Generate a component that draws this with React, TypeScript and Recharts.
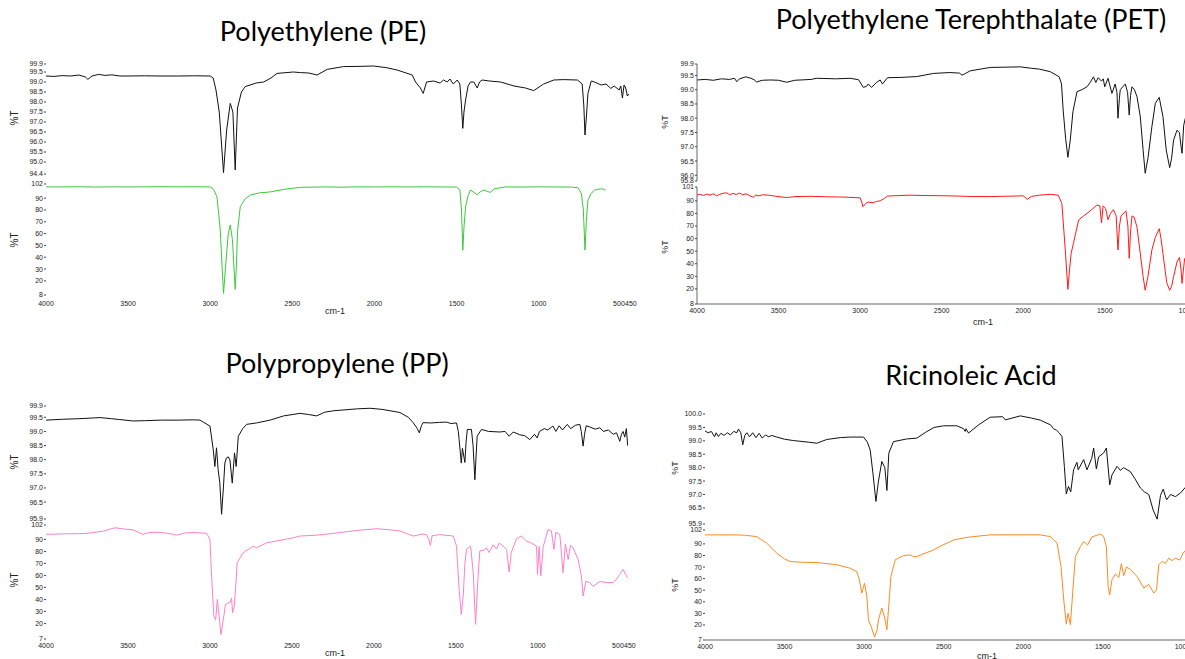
import { Line, LineChart, XAxis, YAxis } from "recharts";

type Pt = [number, number];

// wavenumber (cm-1), %T
const PE_TOP: Pt[] = [
  [4000, 99.3], [3950, 99.28], [3900, 99.32], [3850, 99.3], [3800, 99.35], [3760, 99.25], [3745, 99.13], [3720, 99.3],
  [3680, 99.38], [3640, 99.33], [3600, 99.36], [3550, 99.3], [3500, 99.3], [3400, 99.31], [3300, 99.3], [3200, 99.3],
  [3100, 99.31], [3000, 99.3], [2982, 99.2], [2965, 98.6], [2945, 97.5], [2919, 94.47], [2900, 96.6], [2878, 97.93],
  [2862, 97.5], [2848, 94.6], [2834, 97.7], [2810, 98.5], [2787, 98.77], [2720, 98.95], [2675, 99.0], [2630, 99.2],
  [2593, 99.43], [2494, 99.5], [2451, 99.47], [2400, 99.45], [2349, 99.35], [2288, 99.63], [2189, 99.77], [2100, 99.78],
  [2006, 99.8], [1930, 99.72], [1862, 99.6], [1770, 99.35], [1750, 99.0], [1720, 98.7], [1703, 98.43], [1690, 98.8],
  [1683, 99.0], [1640, 99.05], [1600, 98.95], [1580, 99.1], [1557, 99.0], [1540, 99.15], [1520, 98.9], [1496, 99.1],
  [1480, 98.9], [1470, 97.8], [1462, 96.68], [1455, 97.5], [1445, 98.1], [1430, 98.8], [1415, 99.0], [1395, 99.0],
  [1374, 98.7], [1360, 99.0], [1344, 99.1], [1300, 99.05], [1232, 99.0], [1150, 98.8], [1080, 98.7], [1030, 98.57],
  [970, 98.9], [908, 99.1], [850, 99.12], [764, 99.1], [735, 98.9], [725, 97.8], [718, 96.35], [710, 97.2], [700, 98.43],
  [680, 99.05], [660, 99.0], [620, 98.85], [590, 98.9], [561, 98.68], [540, 98.8], [510, 98.6], [500, 98.8], [490, 98.2],
  [480, 98.85], [470, 98.7], [460, 98.3], [451, 98.4],
];
const PE_BOTTOM: Pt[] = [
  [4000, 99.6], [3900, 99.5], [3800, 99.7], [3700, 99.4], [3600, 99.6], [3500, 99.5], [3400, 99.6], [3300, 99.7],
  [3200, 99.6], [3100, 99.7], [3000, 99.5], [2980, 97.5], [2959, 91.2], [2939, 63], [2925, 25], [2919, 9.4], [2905, 35],
  [2890, 60], [2878, 67.3], [2865, 55], [2848, 12.8], [2840, 35], [2834, 61.6], [2817, 82.8], [2790, 89], [2756, 92.7],
  [2700, 94.5], [2634, 95.3], [2550, 97.5], [2451, 99.2], [2300, 99.5], [2200, 99.3], [2100, 99.6], [2000, 99.5],
  [1900, 99.6], [1800, 99.5], [1700, 99.6], [1600, 99.5], [1500, 99.4], [1480, 97], [1470, 80], [1462, 46], [1455, 65],
  [1445, 82.8], [1430, 92], [1415, 96.9], [1395, 95], [1374, 92.7], [1355, 95.5], [1334, 96.9], [1310, 95.5],
  [1293, 95], [1270, 98], [1200, 99.5], [1100, 99.4], [1000, 99.6], [900, 99.5], [800, 99.4], [760, 98.8], [740, 94],
  [728, 80], [718, 46], [710, 70], [700, 88.5], [680, 94], [660, 96.9], [640, 97.5], [612, 98], [600, 97], [592, 97.5],
];

const PET_TOP: Pt[] = [
  [4000, 99.34], [3950, 99.36], [3900, 99.33], [3850, 99.38], [3800, 99.36], [3770, 99.4], [3756, 99.28], [3740, 99.38],
  [3700, 99.45], [3670, 99.4], [3650, 99.35], [3634, 99.27], [3600, 99.33], [3550, 99.34], [3500, 99.33], [3450, 99.26],
  [3400, 99.33], [3300, 99.36], [3266, 99.4], [3150, 99.38], [3061, 99.4], [3010, 99.35], [2980, 99.08], [2960, 99.12],
  [2950, 99.2], [2930, 99.08], [2900, 99.25], [2877, 99.34], [2863, 99.2], [2832, 99.42], [2750, 99.43], [2652, 99.46],
  [2550, 99.57], [2450, 99.6], [2390, 99.58], [2376, 99.51], [2360, 99.55], [2325, 99.66], [2202, 99.78], [2100, 99.79],
  [2018, 99.8], [1950, 99.75], [1900, 99.72], [1834, 99.63], [1779, 99.45], [1765, 99.2], [1755, 98.29], [1740, 97.3],
  [1726, 96.63], [1712, 97.2], [1695, 98.23], [1670, 98.93], [1640, 99.0], [1609, 99.1], [1590, 99.25], [1569, 99.45],
  [1555, 99.25], [1540, 99.42], [1520, 99.3], [1509, 99.38], [1500, 99.1], [1480, 99.4], [1456, 98.87], [1436, 99.2],
  [1425, 98.9], [1419, 98.0], [1410, 98.7], [1405, 99.0], [1374, 99.2], [1360, 98.9], [1350, 98.11], [1342, 98.8],
  [1333, 99.1], [1318, 99.0], [1302, 98.75], [1282, 98.05], [1265, 96.9], [1252, 96.07], [1235, 96.6], [1211, 97.7],
  [1190, 98.52], [1166, 98.73], [1143, 98.05], [1123, 96.88], [1102, 96.27], [1090, 96.6], [1078, 97.23], [1057, 97.58],
  [1042, 97.5], [1032, 97.0], [1026, 96.77], [1016, 97.75], [1006, 98.0], [990, 98.3], [970, 98.2],
];
const PET_BOTTOM: Pt[] = [
  [4000, 94.6], [3980, 95.2], [3960, 94.2], [3940, 95.4], [3920, 94.5], [3900, 95.6], [3880, 94.0], [3860, 95.2],
  [3840, 96.0], [3818, 96.4], [3800, 94.8], [3780, 96.0], [3760, 95.0], [3740, 96.2], [3720, 94.8], [3700, 95.6],
  [3680, 94.3], [3656, 92.8], [3640, 94.6], [3620, 93.9], [3600, 94.8], [3560, 94.5], [3520, 93.7], [3450, 92.6],
  [3400, 93.4], [3300, 93.6], [3200, 93.2], [3100, 93.0], [3000, 92.4], [2990, 89], [2983, 85.3], [2965, 88],
  [2950, 89], [2920, 88.5], [2900, 89.5], [2877, 90], [2850, 92], [2832, 93.8], [2700, 94.5], [2600, 94.2],
  [2509, 94.1], [2400, 93.8], [2307, 93.4], [2200, 93.4], [2050, 93.8], [2000, 94.0], [1975, 91.2], [1950, 93.5],
  [1900, 94.5], [1834, 95.2], [1785, 94.5], [1763, 88], [1742, 51], [1726, 19.7], [1716, 35], [1706, 48.3],
  [1692, 56.2], [1660, 74.8], [1630, 78], [1609, 80], [1580, 83], [1548, 86.7], [1530, 86], [1520, 72.4], [1510, 86],
  [1495, 84], [1480, 75], [1465, 80], [1447, 83], [1430, 78], [1419, 51], [1410, 70], [1400, 78], [1370, 82],
  [1358, 70], [1350, 44.3], [1342, 65], [1333, 78], [1320, 77], [1302, 69], [1282, 48], [1265, 30], [1252, 18.9],
  [1235, 30], [1211, 51], [1190, 61], [1166, 67.9], [1155, 60], [1143, 48], [1120, 25], [1102, 18.9], [1090, 22],
  [1078, 29.7], [1057, 41.4], [1042, 45], [1032, 35], [1026, 24.4], [1018, 35], [1010, 44], [990, 48], [970, 50],
];

const PP_TOP: Pt[] = [
  [4000, 99.4], [3900, 99.43], [3800, 99.45], [3700, 99.48], [3670, 99.49], [3600, 99.45], [3550, 99.42], [3470, 99.37],
  [3400, 99.38], [3300, 99.4], [3200, 99.4], [3100, 99.41], [3061, 99.4], [3000, 99.19], [2980, 98.36], [2970, 97.76],
  [2960, 98.42], [2950, 97.64], [2940, 97.2], [2929, 96.07], [2918, 97.0], [2909, 97.88], [2900, 98.06], [2888, 98.1],
  [2878, 97.99], [2864, 97.17], [2850, 98.24], [2840, 97.76], [2827, 98.83], [2800, 99.1], [2776, 99.25], [2716, 99.3],
  [2634, 99.4], [2550, 99.55], [2494, 99.6], [2451, 99.64], [2400, 99.6], [2349, 99.55], [2300, 99.68], [2248, 99.73],
  [2100, 99.8], [2024, 99.82], [1950, 99.78], [1841, 99.67], [1790, 99.5], [1760, 99.31], [1735, 99.1], [1723, 98.95],
  [1710, 99.2], [1700, 99.31], [1650, 99.3], [1600, 99.32], [1557, 99.33], [1530, 99.28], [1496, 99.3], [1485, 99.0],
  [1480, 98.71], [1467, 97.88], [1460, 98.4], [1455, 98.24], [1445, 97.9], [1438, 98.6], [1430, 99.07], [1405, 99.07],
  [1395, 98.5], [1384, 97.29], [1376, 98.2], [1370, 98.83], [1344, 99.07], [1300, 99.0], [1232, 98.98], [1200, 99.0],
  [1175, 98.83], [1150, 98.98], [1110, 98.88], [1080, 98.85], [1049, 98.71], [1020, 98.9], [1004, 98.77], [990, 99.0],
  [960, 99.1], [940, 99.05], [908, 99.19], [890, 99.0], [870, 99.2], [850, 99.05], [820, 99.25], [800, 99.1],
  [770, 99.22], [744, 99.25], [735, 99.0], [724, 98.48], [715, 98.9], [705, 99.2], [680, 99.15], [650, 99.08],
  [622, 99.13], [600, 99.0], [570, 99.05], [540, 98.9], [520, 98.95], [510, 98.8], [500, 98.65], [490, 98.9],
  [480, 99.0], [470, 98.8], [460, 99.1], [452, 98.5],
];
const PP_BOTTOM: Pt[] = [
  [4000, 94.2], [3900, 94.6], [3800, 94.8], [3750, 95], [3700, 96], [3650, 96.9], [3580, 99.7], [3520, 98.6],
  [3470, 98], [3409, 94.2], [3380, 95.5], [3330, 96], [3260, 95.2], [3203, 93.6], [3150, 95.4], [3100, 95.8],
  [3020, 95], [3000, 90], [2990, 59.4], [2976, 26], [2965, 23], [2955, 40], [2944, 26], [2933, 10.8], [2919, 23],
  [2905, 35.8], [2890, 37], [2878, 37.2], [2868, 41], [2862, 28.9], [2852, 34], [2844, 48], [2834, 70.6], [2797, 78.9],
  [2736, 84.4], [2716, 83], [2654, 87.2], [2560, 89.5], [2492, 91.4], [2451, 92.8], [2350, 93.5], [2248, 95],
  [2100, 97.5], [1983, 98.9], [1900, 98], [1841, 97], [1760, 92.8], [1700, 94.5], [1679, 94], [1665, 90], [1655, 85],
  [1645, 93], [1600, 94], [1516, 92.8], [1496, 84.4], [1480, 48.3], [1467, 27.5], [1455, 43], [1445, 70], [1435, 81.7],
  [1410, 84.4], [1394, 62.2], [1380, 19.2], [1366, 55], [1354, 80.3], [1330, 81], [1313, 83], [1297, 79], [1273, 85.5],
  [1252, 82], [1235, 87], [1212, 84.4], [1191, 81.7], [1175, 62.8], [1162, 79], [1130, 90.6], [1100, 92.8],
  [1069, 88.6], [1039, 87], [1008, 84.4], [1002, 60.8], [992, 84], [982, 59.4], [967, 84], [937, 98.3], [917, 97],
  [902, 81.7], [890, 96], [866, 94], [846, 62.2], [832, 86], [815, 73.3], [801, 85], [785, 83], [754, 73], [734, 59.4],
  [724, 42.8], [707, 55], [683, 54], [663, 51], [640, 53], [622, 55], [580, 54], [541, 54], [520, 57], [500, 60.8],
  [480, 65], [465, 61], [453, 58],
];

const RA_TOP: Pt[] = [
  [4000, 99.37], [3980, 99.3], [3960, 99.35], [3940, 99.15], [3930, 99.3], [3916, 99.16], [3900, 99.28], [3880, 99.2],
  [3860, 99.3], [3840, 99.22], [3820, 99.35], [3800, 99.3], [3790, 99.44], [3775, 99.3], [3763, 98.85], [3750, 99.2],
  [3737, 99.3], [3720, 99.15], [3700, 99.3], [3680, 99.12], [3660, 99.28], [3640, 99.1], [3620, 99.22], [3600, 99.15],
  [3580, 99.2], [3549, 99.14], [3500, 99.06], [3445, 99.01], [3350, 98.95], [3297, 98.91], [3235, 99.05], [3150, 99.12],
  [3088, 99.14], [3004, 99.14], [2980, 98.95], [2962, 98.66], [2945, 97.8], [2926, 96.74], [2910, 97.5], [2889, 98.23],
  [2870, 98.0], [2857, 97.15], [2845, 98.54], [2816, 98.97], [2732, 99.07], [2669, 99.1], [2606, 99.35], [2560, 99.5],
  [2501, 99.56], [2417, 99.56], [2375, 99.45], [2365, 99.35], [2360, 99.45], [2344, 99.29], [2280, 99.6], [2208, 99.88],
  [2130, 99.9], [2113, 99.78], [2019, 99.93], [1950, 99.85], [1893, 99.77], [1850, 99.65], [1830, 99.6], [1810, 99.45],
  [1792, 99.4], [1775, 99.3], [1757, 99.16], [1742, 98.04], [1730, 97.02], [1716, 97.3], [1702, 97.1], [1684, 97.92],
  [1663, 98.2], [1655, 97.92], [1621, 98.3], [1600, 97.92], [1570, 98.35], [1558, 98.73], [1541, 97.95], [1527, 98.4],
  [1495, 98.55], [1478, 98.73], [1457, 97.36], [1443, 97.73], [1411, 98.05], [1390, 97.9], [1370, 98.0], [1327, 97.85],
  [1300, 97.6], [1264, 97.24], [1240, 97.1], [1212, 97.0], [1184, 96.42], [1159, 96.08], [1138, 96.97], [1121, 97.2],
  [1100, 96.8], [1075, 97.0], [1044, 96.92], [1012, 97.06], [981, 97.27], [960, 97.4],
];
const RA_BOTTOM: Pt[] = [
  [4000, 97.8], [3900, 97.8], [3822, 97.8], [3750, 97.5], [3675, 96.3], [3612, 90.6], [3549, 82], [3500, 77],
  [3465, 74.8], [3400, 74.2], [3297, 73.9], [3172, 72], [3088, 69], [3046, 66], [3030, 59], [3015, 47.5], [2998, 56],
  [2983, 44.6], [2973, 24.5], [2952, 17], [2935, 9.6], [2920, 15], [2910, 24.5], [2889, 34.6], [2872, 27], [2857, 15.9],
  [2845, 37], [2832, 61.8], [2805, 76.2], [2753, 79.9], [2711, 80.5], [2690, 79], [2669, 79.1], [2564, 84.8],
  [2522, 88], [2459, 92], [2438, 93.4], [2354, 95.7], [2208, 97.8], [2000, 97.9], [1893, 97.8], [1830, 96.3],
  [1788, 90.6], [1763, 70.4], [1746, 41.7], [1730, 21], [1719, 30], [1704, 20.2], [1690, 47.5], [1673, 79], [1641, 87.7],
  [1620, 92], [1596, 89], [1569, 96], [1537, 97.5], [1516, 98.5], [1495, 96.3], [1478, 87.7], [1467, 53.2], [1457, 46],
  [1443, 59], [1421, 64], [1400, 61], [1384, 72.8], [1369, 62.5], [1352, 70], [1327, 68], [1285, 61.8], [1243, 51.8],
  [1212, 55], [1180, 47.5], [1163, 50.5], [1149, 71.9], [1128, 75], [1107, 73], [1086, 77.7], [1065, 75.5],
  [1044, 77.7], [1017, 76], [996, 82], [981, 84.5], [960, 86],
];

const X_TICKS_FULL = [4000, 3500, 3000, 2500, 2000, 1500, 1000, 500, 450];
const X_TICKS_CUT = [4000, 3500, 3000, 2500, 2000, 1500, 1000];
const PE_TOP_TICKS = [94.4, 95.0, 95.5, 96.0, 96.5, 97.0, 97.5, 98.0, 98.5, 99.0, 99.5, 99.9];
const PE_BOTTOM_TICKS = [8, 20, 30, 40, 50, 60, 70, 80, 90, 102];
const PET_TOP_TICKS = [95.8, 96.0, 96.5, 97.0, 97.5, 98.0, 98.5, 99.0, 99.5, 99.9];
const PET_BOTTOM_TICKS = [8, 20, 30, 40, 50, 60, 70, 80, 90, 101];
const PP_TOP_TICKS = [95.9, 96.5, 97.0, 97.5, 98.0, 98.5, 99.0, 99.5, 99.9];
const PP_BOTTOM_TICKS = [7, 20, 30, 40, 50, 60, 70, 80, 90, 102];
const RA_TOP_TICKS = [95.9, 96.5, 97.0, 97.5, 98.0, 98.5, 99.0, 99.5, 100.0];
const RA_BOTTOM_TICKS = [7, 20, 30, 40, 50, 60, 70, 80, 90, 102];

const AXIS_FONT = "'Liberation Sans', Arial, sans-serif";
const TITLE_FONT = "Lato, 'Open Sans', sans-serif";
const TICK_SIZE = 7;
const Y_W = 40;
const PAD = 6;
const PAD_R = 16;

type SubProps = {
  left: number;
  top: number;
  plotW: number;
  plotH: number;
  data: Pt[];
  domain: [number, number];
  ticks: number[];
  decimals: number;
  color: string;
  showX?: boolean;
  xTicks?: number[];
  xGap?: number;
  xLine?: boolean;
  yLine?: boolean;
};

const XTick = (props: any) => {
  const { x, y, payload } = props;
  const v = payload.value;
  const anchor = v === 500 ? "end" : v === 450 ? "start" : "middle";
  const dx = v === 500 ? 4 : v === 450 ? -4 : 0;
  return (
    <text x={x + dx} y={y} dy="0.71em" textAnchor={anchor} fontSize={TICK_SIZE} fill="#222" fontFamily={AXIS_FONT}>
      {v}
    </text>
  );
};

function SubChart(p: SubProps) {
  const xH = p.showX ? 20 : 0;
  const rows = p.data.map(([wn, t]) => ({ wn, t }));
  return (
    <div style={{ position: "absolute", left: p.left - Y_W, top: p.top - PAD }}>
      <LineChart
        width={Y_W + p.plotW + PAD_R}
        height={PAD + p.plotH + (p.showX ? xH : PAD)}
        data={rows}
        margin={{ top: PAD, right: PAD_R, bottom: p.showX ? 0 : PAD, left: 0 }}
      >
        <XAxis
          type="number"
          dataKey="wn"
          domain={[450, 4000]}
          reversed
          allowDataOverflow
          hide={!p.showX}
          ticks={p.xTicks ?? X_TICKS_FULL}
          interval={0}
          height={xH}
          axisLine={p.xLine ? { stroke: "#666", strokeWidth: 1 } : false}
          tickLine={false}
          tickSize={p.xGap ?? 3}
          tickMargin={1}
          tick={<XTick />}
        />
        <YAxis
          type="number"
          domain={p.domain}
          ticks={p.ticks}
          interval={0}
          allowDataOverflow
          width={Y_W}
          axisLine={p.yLine ? { stroke: "#666", strokeWidth: 1 } : false}
          tickLine={{ stroke: "#444" }}
          tickSize={2}
          tickMargin={1}
          tick={{ fontSize: TICK_SIZE, fill: "#222", fontFamily: AXIS_FONT }}
          tickFormatter={(v: number) => v.toFixed(p.decimals)}
        />
        <Line dataKey="t" type="linear" stroke={p.color} strokeWidth={1} dot={false} isAnimationActive={false} />
      </LineChart>
    </div>
  );
}

function Text({ x, y, text, size, rotate, font }: { x: number; y: number; text: string; size: number; rotate?: boolean; font?: string }) {
  return (
    <div
      style={{
        position: "absolute",
        left: x,
        top: y,
        transform: `translate(-50%, -50%)${rotate ? " rotate(-90deg)" : ""}`,
        fontSize: size,
        fontFamily: font ?? AXIS_FONT,
        color: font ? "#000" : "#222",
        whiteSpace: "nowrap",
        lineHeight: 1,
      }}
    >
      {text}
    </div>
  );
}

export default function App() {
  return (
    <div style={{ position: "fixed", left: 0, top: 0, width: 1185, height: 659, overflow: "hidden", background: "#fff" }}>
      {/* Polyethylene */}
      <Text x={323} y={30} text="Polyethylene (PE)" size={27} font={TITLE_FONT} />
      <SubChart left={46} top={64} plotW={583} plotH={110} data={PE_TOP} domain={[94.4, 99.9]} ticks={PE_TOP_TICKS} decimals={1} color="#111" />
      <SubChart left={46} top={184} plotW={583} plotH={111} data={PE_BOTTOM} domain={[8, 102]} ticks={PE_BOTTOM_TICKS} decimals={0} color="#3cc83c" showX xGap={5} />
      <Text x={15} y={118} text="%T" size={10} rotate />
      <Text x={15} y={240} text="%T" size={10} rotate />
      <Text x={335} y={311} text="cm-1" size={9} />

      {/* Polyethylene Terephthalate */}
      <Text x={971} y={18} text="Polyethylene Terephthalate (PET)" size={27} font={TITLE_FONT} />
      <SubChart left={697} top={64} plotW={579} plotH={117} data={PET_TOP} domain={[95.8, 99.9]} ticks={PET_TOP_TICKS} decimals={1} color="#111" yLine />
      <SubChart left={697} top={187} plotW={579} plotH={117} data={PET_BOTTOM} domain={[8, 101]} ticks={PET_BOTTOM_TICKS} decimals={0} color="#ff1a1a" showX xTicks={X_TICKS_CUT} xLine yLine />
      <Text x={665} y={122} text="%T" size={9} rotate />
      <Text x={665} y={247} text="%T" size={9} rotate />
      <Text x={983} y={322} text="cm-1" size={9} />

      {/* Polypropylene */}
      <Text x={337} y={362} text="Polypropylene (PP)" size={27} font={TITLE_FONT} />
      <SubChart left={46} top={406} plotW={582} plotH={113} data={PP_TOP} domain={[95.9, 99.9]} ticks={PP_TOP_TICKS} decimals={1} color="#111" />
      <SubChart left={46} top={525} plotW={582} plotH={114} data={PP_BOTTOM} domain={[7, 102]} ticks={PP_BOTTOM_TICKS} decimals={0} color="#ff80c8" showX />
      <Text x={15} y={462} text="%T" size={10} rotate />
      <Text x={15} y={580} text="%T" size={10} rotate />
      <Text x={335} y={653} text="cm-1" size={9} />

      {/* Ricinoleic Acid */}
      <Text x={971} y={374} text="Ricinoleic Acid" size={27} font={TITLE_FONT} />
      <SubChart left={705} top={414} plotW={565} plotH={110} data={RA_TOP} domain={[95.9, 100]} ticks={RA_TOP_TICKS} decimals={1} color="#111" />
      <SubChart left={705} top={530} plotW={565} plotH={110} data={RA_BOTTOM} domain={[7, 102]} ticks={RA_BOTTOM_TICKS} decimals={0} color="#ff8a1f" showX xTicks={X_TICKS_CUT} xLine />
      <Text x={675} y={468} text="%T" size={9} rotate />
      <Text x={675} y={585} text="%T" size={9} rotate />
      <Text x={987} y={656} text="cm-1" size={9} />
    </div>
  );
}
